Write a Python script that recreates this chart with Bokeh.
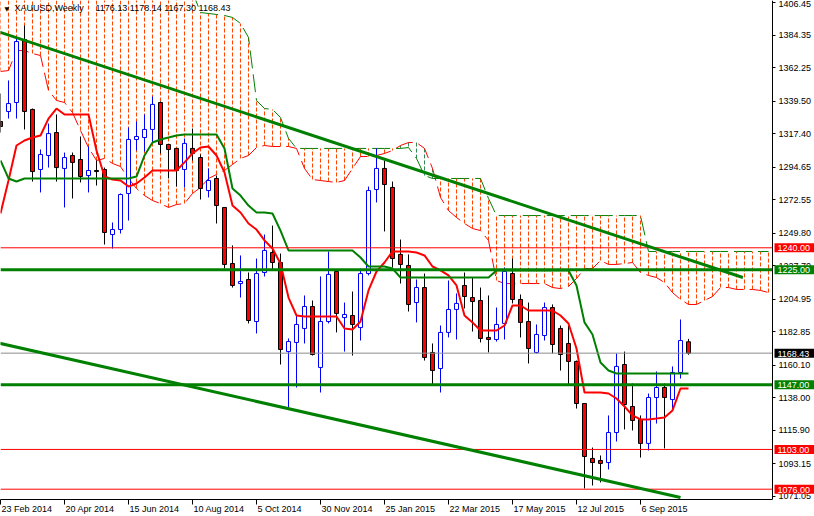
from bokeh.plotting import figure
from bokeh.models import (ColumnDataSource, FixedTicker, PrintfTickFormatter,
                          CustomJSTickFormatter, Label, Range1d)
from bokeh.embed import file_html
from bokeh.resources import INLINE

# ---------------- data (weekly XAUUSD) ----------------
x_labels = ["23 Feb 2014", "20 Apr 2014", "15 Jun 2014", "10 Aug 2014", "5 Oct 2014",
            "30 Nov 2014", "25 Jan 2015", "22 Mar 2015", "17 May 2015", "12 Jul 2015",
            "6 Sep 2015"]
bars_per_label = 8

opens = [1325.8, 1332.6, 1338.7, 1381.5, 1334.0, 1293.2, 1302.7, 1318.3, 1293.9, 1302.7,
         1300.0, 1289.1, 1292.5, 1293.2, 1249.0, 1252.4, 1276.9, 1313.6, 1314.9, 1320.4,
         1338.7, 1310.2, 1307.5, 1293.2, 1307.5, 1301.3, 1278.9, 1287.1, 1267.4, 1229.3,
         1215.7, 1218.5, 1189.9, 1223.2, 1236.8, 1230.0, 1169.5, 1175.7, 1185.2, 1200.1,
         1158.7, 1189.9, 1223.9, 1192.6, 1194.0, 1185.8, 1222.5, 1279.6, 1293.9, 1281.0,
         1235.5, 1228.0, 1202.8, 1213.0, 1168.9, 1158.0, 1182.5, 1198.1, 1214.4, 1206.2,
         1204.2, 1179.1, 1177.7, 1188.6, 1222.5, 1204.9, 1189.9, 1168.9, 1180.4, 1199.4,
         1185.2, 1175.0, 1162.8, 1134.2, 1096.9, 1095.5, 1094.1, 1114.5, 1160.7, 1132.2,
         1123.4, 1107.1, 1138.3, 1145.1, 1136.9, 1155.3, 1176.13]
highs = [1344.8, 1353.7, 1382.2, 1391.0, 1334.6, 1306.8, 1324.4, 1330.6, 1304.7, 1304.7,
         1315.6, 1308.8, 1299.3, 1294.5, 1257.2, 1276.9, 1321.7, 1325.8, 1330.6, 1342.8,
         1339.4, 1310.2, 1307.5, 1314.3, 1321.0, 1303.4, 1293.9, 1289.1, 1267.4, 1241.6,
         1234.8, 1223.2, 1232.7, 1249.0, 1255.1, 1236.1, 1178.4, 1194.0, 1207.6, 1204.2,
         1220.5, 1237.5, 1224.6, 1202.8, 1210.3, 1225.9, 1281.6, 1307.5, 1299.3, 1285.0,
         1245.6, 1235.5, 1218.5, 1222.5, 1175.0, 1187.2, 1217.8, 1209.0, 1223.2, 1219.8,
         1213.0, 1207.6, 1199.4, 1226.6, 1232.7, 1208.3, 1202.8, 1187.9, 1202.8, 1201.5,
         1187.2, 1187.2, 1163.4, 1134.2, 1104.3, 1098.9, 1126.1, 1168.2, 1169.5, 1147.8,
         1126.1, 1141.0, 1156.0, 1147.8, 1159.4, 1191.3, 1178.14]
lows = [1318.3, 1327.8, 1327.8, 1320.4, 1285.0, 1277.6, 1294.5, 1285.0, 1267.4, 1273.5,
        1284.4, 1277.6, 1282.3, 1242.2, 1239.5, 1249.7, 1258.5, 1306.1, 1305.4, 1311.5,
        1304.1, 1287.1, 1281.6, 1281.0, 1299.3, 1272.8, 1274.2, 1256.5, 1225.9, 1213.0,
        1206.2, 1188.6, 1181.8, 1220.5, 1225.2, 1160.7, 1131.5, 1145.1, 1175.0, 1166.8,
        1141.7, 1188.6, 1182.5, 1169.5, 1166.8, 1177.0, 1221.2, 1270.8, 1251.1, 1226.6,
        1215.7, 1196.7, 1189.3, 1163.4, 1147.1, 1141.7, 1179.1, 1177.7, 1198.8, 1183.1,
        1175.7, 1168.9, 1176.3, 1177.7, 1202.2, 1179.1, 1161.4, 1168.2, 1177.0, 1168.2,
        1156.6, 1147.1, 1130.8, 1076.5, 1078.5, 1080.6, 1089.4, 1108.4, 1116.6, 1115.9,
        1097.5, 1102.3, 1120.6, 1103.7, 1129.5, 1151.2, 1167.30]
closes = [1322.4, 1338.0, 1380.1, 1332.6, 1291.8, 1303.4, 1317.6, 1294.5, 1301.3, 1298.0,
          1288.4, 1292.5, 1291.8, 1250.4, 1252.4, 1276.2, 1313.6, 1315.6, 1320.4, 1337.4,
          1310.2, 1306.8, 1292.5, 1310.9, 1304.1, 1280.3, 1285.7, 1268.7, 1228.7, 1214.4,
          1217.1, 1190.6, 1222.5, 1238.2, 1230.0, 1170.9, 1176.3, 1187.9, 1200.1, 1167.5,
          1189.9, 1221.9, 1195.4, 1194.7, 1187.9, 1222.5, 1278.9, 1293.9, 1283.0, 1232.7,
          1228.7, 1201.5, 1213.0, 1165.5, 1156.6, 1182.5, 1198.1, 1202.2, 1206.9, 1203.5,
          1178.4, 1177.7, 1187.9, 1223.9, 1204.9, 1189.3, 1171.6, 1181.1, 1199.4, 1174.3,
          1167.5, 1162.8, 1134.2, 1098.2, 1094.1, 1093.5, 1114.5, 1159.4, 1133.5, 1122.7,
          1107.1, 1138.3, 1145.1, 1138.3, 1155.3, 1177.0, 1168.43]

tenkan = [1263.3, 1285.7, 1309.5, 1312.9, 1314.9, 1316.3, 1327.8, 1334.6, 1330.6, 1330.6,
          1330.6, 1330.6, 1306.1, 1288.4, 1286.4, 1285.7, 1281.6, 1283.7, 1287.8, 1292.5,
          1292.5, 1292.5, 1292.5, 1298.0, 1304.1, 1308.1, 1308.8, 1302.7, 1291.2, 1268.7,
          1264.0, 1256.5, 1252.4, 1245.0, 1239.5, 1229.3, 1206.2, 1194.0, 1193.3, 1193.3,
          1193.3, 1193.3, 1193.3, 1185.2, 1184.5, 1189.9, 1211.0, 1223.9, 1230.0, 1237.5,
          1237.5, 1237.5, 1236.8, 1234.8, 1227.3, 1224.6, 1221.2, 1214.4, 1194.0, 1189.3,
          1183.8, 1183.8, 1183.8, 1187.2, 1200.8, 1200.8, 1197.4, 1197.4, 1197.4, 1197.4,
          1194.0, 1188.6, 1171.6, 1141.7, 1141.7, 1141.7, 1141.0, 1137.6, 1132.2, 1126.1,
          1123.4, 1123.4, 1124.0, 1124.7, 1129.5, 1144.4, 1144.4]
kijun = [1299.3, 1287.1, 1285.0, 1287.1, 1287.1, 1287.1, 1287.1, 1287.1, 1287.1, 1287.1,
         1287.1, 1287.1, 1287.1, 1287.1, 1287.1, 1287.1, 1287.1, 1288.4, 1302.7, 1311.5,
         1313.6, 1314.9, 1316.3, 1317.0, 1317.0, 1317.0, 1317.0, 1317.0, 1307.5, 1280.3,
         1275.5, 1268.7, 1264.0, 1264.0, 1263.3, 1251.7, 1238.2, 1238.2, 1238.2, 1238.2,
         1238.2, 1238.2, 1238.2, 1238.2, 1238.2, 1233.4, 1227.3, 1227.3, 1227.3, 1225.9,
         1219.8, 1219.8, 1219.8, 1219.8, 1219.8, 1219.8, 1219.8, 1219.8, 1219.8, 1219.8,
         1219.8, 1219.8, 1224.6, 1224.6, 1224.6, 1224.6, 1224.6, 1224.6, 1224.6, 1224.6,
         1224.6, 1224.6, 1214.4, 1189.3, 1181.1, 1162.1, 1156.6, 1154.6, 1154.6, 1154.6,
         1154.6, 1154.6, 1154.6, 1154.6, 1154.6, 1154.6, 1154.6]
# cloud (already shifted forward, so it runs past the last bar)
span_a = [1359.8, 1360.4, 1374.0, 1374.0, 1372.0, 1370.6, 1346.9, 1340.1, 1338.7, 1331.9,
          1319.7, 1308.1, 1299.3, 1300.7, 1297.3, 1295.2, 1287.1, 1280.3, 1275.5, 1272.1,
          1270.1, 1267.4, 1269.4, 1270.1, 1276.9, 1281.0, 1287.1, 1289.8, 1292.5, 1296.6,
          1300.7, 1302.7, 1308.1, 1309.5, 1308.8, 1308.8, 1308.8, 1307.5, 1293.9, 1286.4,
          1285.7, 1285.0, 1284.4, 1285.7, 1293.9, 1302.0, 1302.0, 1302.7, 1304.1, 1306.1,
          1309.5, 1311.5, 1311.5, 1307.5, 1293.9, 1274.2, 1265.3, 1260.6, 1256.5, 1253.1,
          1251.7, 1245.0, 1217.8, 1215.7, 1215.7, 1215.7, 1215.7, 1215.7, 1215.7, 1213.0,
          1212.3, 1213.7, 1219.1, 1225.9, 1225.9, 1231.4, 1228.7, 1228.7, 1229.3, 1230.0,
          1223.2, 1221.2, 1219.8, 1216.4, 1209.6, 1204.9, 1201.5, 1201.5, 1204.2, 1206.9,
          1213.0, 1213.0, 1211.7, 1211.7, 1211.7, 1211.0, 1209.6]
span_b = [1418.0, 1418.0, 1418.0, 1418.0, 1418.0, 1418.0, 1418.0, 1418.0, 1418.0, 1418.0,
          1418.0, 1418.0, 1418.0, 1418.0, 1418.0, 1418.0, 1418.0, 1418.0, 1418.0, 1418.0,
          1418.0, 1418.0, 1418.0, 1418.0, 1414.0, 1399.8, 1399.2, 1398.5, 1397.8, 1396.5,
          1392.4, 1382.9, 1340.1, 1334.6, 1334.0, 1328.5, 1314.3, 1307.5, 1307.5, 1307.5,
          1307.5, 1307.5, 1307.5, 1307.5, 1307.5, 1307.5, 1307.5, 1307.5, 1307.5, 1307.5,
          1307.5, 1308.1, 1300.7, 1289.1, 1287.1, 1287.1, 1287.1, 1287.1, 1287.1, 1287.1,
          1287.1, 1273.5, 1261.9, 1261.9, 1261.9, 1261.9, 1261.9, 1261.9, 1261.9, 1261.9,
          1261.9, 1261.9, 1261.9, 1261.9, 1261.9, 1261.9, 1261.9, 1261.9, 1261.9, 1261.9,
          1261.9, 1237.5, 1237.5, 1237.5, 1237.5, 1237.5, 1237.5, 1237.5, 1237.5, 1237.5,
          1237.5, 1237.5, 1237.5, 1237.5, 1237.5, 1237.5, 1237.5]

y_ticks = [1406.45, 1384.35, 1362.25, 1339.50, 1317.40, 1294.65, 1272.55, 1249.80,
           1227.70, 1204.95, 1182.85, 1160.10, 1138.00, 1115.90, 1093.15, 1071.05]

levels = [1240.00, 1225.00, 1147.00, 1103.00, 1076.00]
level_colors = ["#FF0000", "#008000", "#008000", "#FF0000", "#FF0000"]
level_widths = [1, 3, 3, 1, 1]
current_price = 1168.43

trend_upper_x = [-0.5, 92.8]
trend_upper_y = [1387.2, 1219.8]
trend_lower_x = [-0.5, 85.0]
trend_lower_y = [1175.6, 1070.4]

symbol = "XAUUSD,Weekly"
ohlc_text = "1176.13 1178.14 1167.30 1168.43"

# ---------------- layout ----------------
FONT = "Liberation Sans"
W, H = 814, 516
CHART_W, FRAME_H = 772, 499      # chart area; the price scale sits right of it
BAR_PX = 8
x_start = 0.0
axis_x = x_start + CHART_W / BAR_PX

RED = "#FF0000"
GREEN = "#008000"
BLUE = "#0000FF"
HATCH = "#FF4500"
HATCH_INV = "#2E8B57"

p = figure(width=W, height=H, output_backend="svg", toolbar_location=None,
           x_range=Range1d(x_start, x_start + W / BAR_PX),
           y_range=Range1d(1069.0, 1408.0),
           y_axis_location="right",
           min_border_left=0, min_border_top=0, min_border_right=0,
           min_border_bottom=H - FRAME_H,
           background_fill_color="white", border_fill_color="white")
p.outline_line_color = None
p.xgrid.visible = False
p.ygrid.visible = False

# cloud hatching
cb = list(range(len(span_a)))
hatch = ColumnDataSource(dict(
    x=cb, a=span_a, b=span_b,
    c=[HATCH if b >= a else HATCH_INV for a, b in zip(span_a, span_b)]))
p.segment(x0="x", y0="a", x1="x", y1="b", source=hatch, line_color="c",
          line_width=1, line_dash="4 2")
p.line(cb, span_a, line_color=RED, line_width=1, line_dash="18 6")
p.line(cb, span_b, line_color=GREEN, line_width=1, line_dash="18 6")

# candles
idx = list(range(len(opens)))
bull = [c >= o for o, c in zip(opens, closes)]
cs = ColumnDataSource(dict(
    x=idx, o=opens, h=highs, l=lows, c=closes,
    top=[max(o, c) for o, c in zip(opens, closes)],
    bot=[min(o, c) for o, c in zip(opens, closes)],
    wick=[BLUE if b else "black" for b in bull],
    fill=["white" if b else RED for b in bull]))
p.segment(x0="x", y0="h", x1="x", y1="l", source=cs, line_color="wick", line_width=1)
p.vbar(x="x", width=0.5, top="top", bottom="bot", source=cs,
       fill_color="fill", line_color="wick", line_width=1)

# Tenkan / Kijun
p.line(idx, tenkan, line_color=RED, line_width=2)
p.line(idx, kijun, line_color=GREEN, line_width=2)

# horizontal levels (across the chart area only)
lv = ColumnDataSource(dict(x0=[x_start] * (len(levels) + 1), x1=[axis_x] * (len(levels) + 1),
                           y=levels + [current_price],
                           c=level_colors + ["#8C8C8C"],
                           w=level_widths + [1]))
p.segment(x0="x0", y0="y", x1="x1", y1="y", source=lv, line_color="c", line_width="w")

# trend lines
p.line(trend_upper_x, trend_upper_y, line_color=GREEN, line_width=3)
p.line(trend_lower_x, trend_lower_y, line_color=GREEN, line_width=3)

# price axis, pinned to the right edge of the chart area
yax = p.yaxis[0]
yax.fixed_location = axis_x
yax.ticker = FixedTicker(ticks=y_ticks)
yax.formatter = PrintfTickFormatter(format="%.2f")
yax.major_tick_out = 3
yax.major_tick_in = 0
yax.minor_tick_line_color = None
yax.major_label_standoff = 3
yax.major_label_text_font = FONT
yax.major_label_text_font_size = "9px"
yax.major_label_text_color = "black"
yax.axis_line_color = "black"
yax.major_tick_line_color = "black"

CW = {' ': .278, '.': .278, 'F': .611, 'A': .667, 'J': .5, 'O': .778, 'N': .722,
      'M': .833, 'S': .667, 'r': .333, 'c': .5, 't': .278, 'v': .5, 'y': .5, 'l': .222}


def text_w(s, size=9):
    return sum(CW.get(ch, .556) for ch in s) * size


label_ticks = [i * bars_per_label + (1 + text_w(s) / 2) / BAR_PX
               for i, s in enumerate(x_labels)]
xax = p.xaxis[0]
xax.bounds = (x_start, axis_x)
xax.ticker = FixedTicker(ticks=label_ticks,
                         minor_ticks=[i * bars_per_label for i in range(len(x_labels))])
xax.formatter = CustomJSTickFormatter(args=dict(labels=x_labels, n=bars_per_label),
                                      code="return labels[Math.floor(tick / n)];")
xax.major_tick_line_color = None
xax.major_tick_out = 0
xax.major_tick_in = 0
xax.minor_tick_line_color = "black"
xax.minor_tick_out = 5
xax.minor_tick_in = 0
xax.major_label_standoff = -1
xax.major_label_text_font = FONT
xax.major_label_text_font_size = "9px"
xax.major_label_text_color = "black"
xax.axis_line_color = "black"

# price boxes on the axis
for v, col in zip(levels + [current_price], level_colors + ["black"]):
    p.add_layout(Label(x=CHART_W + 2, x_units="screen", y=v, y_units="data",
                       text=f"{v:.2f}", text_color="white", text_font=FONT,
                       text_font_size="9px", text_baseline="middle", text_align="left",
                       background_fill_color=col,
                       padding=dict(left=3, right=5, top=2, bottom=1)))

# chart caption
p.add_layout(Label(x=4, y=FRAME_H - 7.5, x_units="screen", y_units="screen", text="\u25bc",
                   text_font="DejaVu Sans", text_font_size="6px", text_color="black",
                   text_baseline="middle"))
p.add_layout(Label(x=14, y=FRAME_H - 7.5, x_units="screen", y_units="screen", text=symbol,
                   text_font=FONT, text_font_size="9px", text_color="black",
                   text_baseline="middle"))
p.add_layout(Label(x=95, y=FRAME_H - 7.5, x_units="screen", y_units="screen", text=ohlc_text,
                   text_font=FONT, text_font_size="9px", text_color="black",
                   text_baseline="middle"))

open("out.html", "w").write(file_html(p, INLINE))
